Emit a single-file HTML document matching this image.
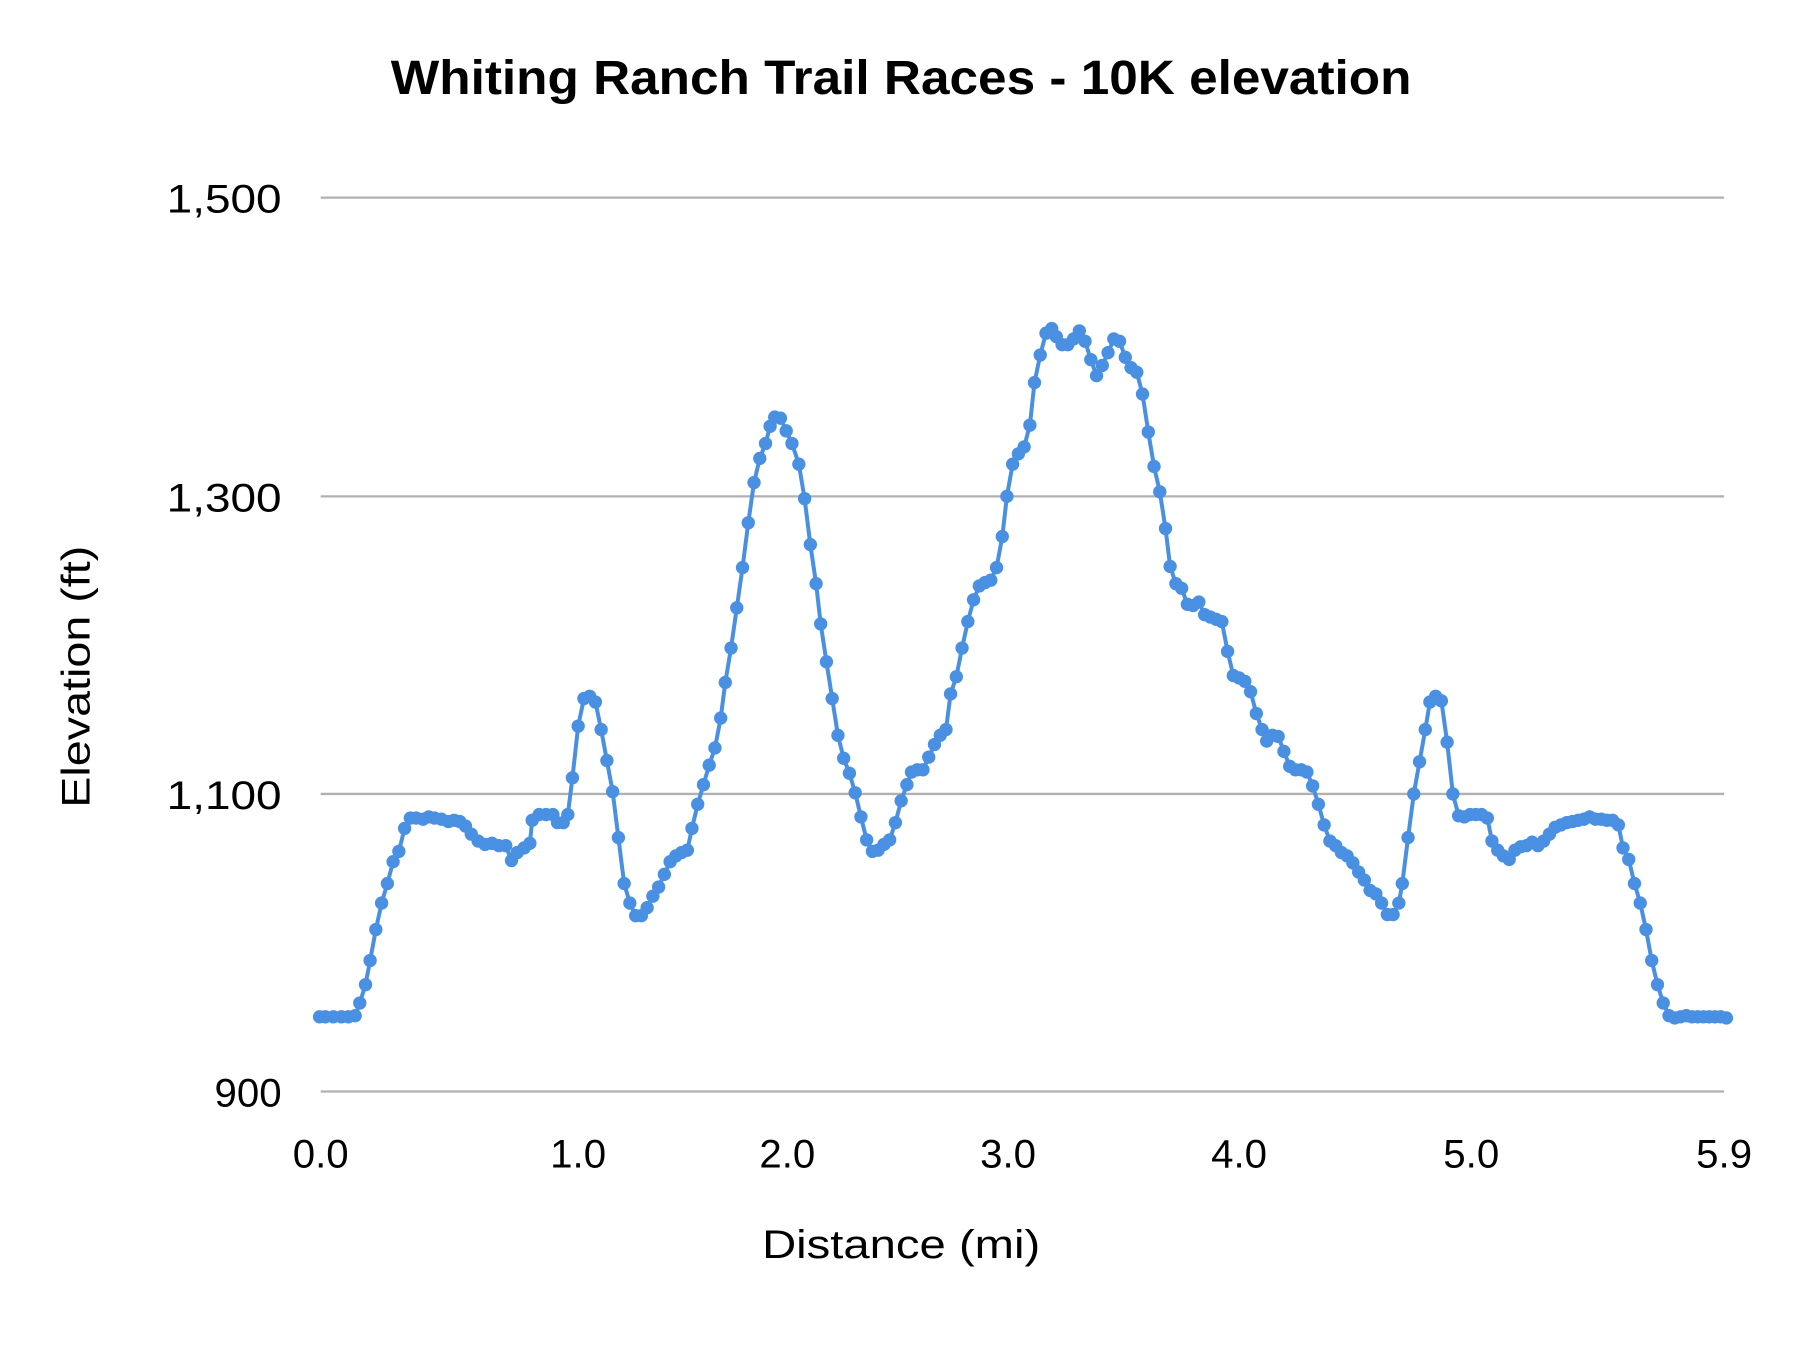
<!DOCTYPE html>
<html><head><meta charset="utf-8"><style>
html,body{margin:0;padding:0;background:#fff;}
svg{display:block;}
text{font-family:"Liberation Sans",sans-serif;fill:#000;}
</style></head><body>
<svg width="1800" height="1350" viewBox="0 0 1566 1175" preserveAspectRatio="none">
<rect width="1566" height="1175" fill="#fff"/>
<text x="340" y="82" font-size="42" font-weight="bold" textLength="888" lengthAdjust="spacingAndGlyphs">Whiting Ranch Trail Races  - 10K elevation</text>
<g stroke="#b0b0b0" stroke-width="2">
<line x1="279" y1="172" x2="1500" y2="172"/>
<line x1="279" y1="432" x2="1500" y2="432"/>
<line x1="279" y1="691" x2="1500" y2="691"/>
<line x1="279" y1="950" x2="1500" y2="950"/>
</g>
<g font-size="35" text-anchor="end">
<text x="245" y="185" textLength="100" lengthAdjust="spacingAndGlyphs">1,500</text>
<text x="245" y="445" textLength="100" lengthAdjust="spacingAndGlyphs">1,300</text>
<text x="245" y="704" textLength="100" lengthAdjust="spacingAndGlyphs">1,100</text>
<text x="245" y="963">900</text>
</g>
<g font-size="35" text-anchor="middle">
<text x="279" y="1016">0.0</text>
<text x="503" y="1016">1.0</text>
<text x="685" y="1016">2.0</text>
<text x="877" y="1016">3.0</text>
<text x="1078" y="1016">4.0</text>
<text x="1280" y="1016">5.0</text>
<text x="1500" y="1016">5.9</text>
</g>
<text x="663" y="1095" font-size="35" textLength="242" lengthAdjust="spacingAndGlyphs">Distance (mi)</text>
<text transform="translate(78,703) rotate(-90)" font-size="35" textLength="228" lengthAdjust="spacingAndGlyphs">Elevation (ft)</text>
<polyline id="p" fill="none" stroke="#4a90e2" stroke-width="3.5" stroke-linejoin="round" points="278,885 283,885 290,885 297,885 303,885 309,884 313,873 318,857 322,836 327,809 332,786 337,769 342,750 347,741 352,721 357,712 362,712 368,713 373,711 378,712 384,713 390,715 395,714 400,715 405,719 410,726 416,732 422,735 428,734 434,736 440,736 445,749 450,742 456,738 461,734 463,714 469,709 475,709 481,709 485,716 490,716 494,709 498,677 503,632 508,608 513,606 518,611 523,635 528,662 533,689 538,729 543,769 548,786 553,797 558,797 563,790 568,780 573,772 578,761 583,750 588,745 593,742 598,740 602,721 607,700 612,683 617,666 622,651 627,625 631,594 636,564 641,529 646,494 651,455 656,420 661,399 666,386 670,371 674,363 679,364 684,375 689,386 695,404 700,434 705,474 710,508 714,543 719,576 724,608 729,640 734,660 739,673 744,690 749,711 754,731 759,741 764,740 769,735 774,731 779,716 784,697 789,683 793,672 798,670 803,670 808,659 813,648 818,640 823,635 827,604 832,589 837,564 842,541 847,522 852,510 857,507 862,505 867,494 872,467 876,432 881,404 886,395 891,389 896,370 900,333 905,309 910,290 915,286 919,293 924,300 929,300 934,295 939,288 944,297 949,313 954,327 959,318 964,307 969,295 974,297 979,311 984,320 989,324 994,343 999,376 1004,406 1009,428 1014,460 1018,493 1023,508 1028,512 1033,526 1038,527 1043,524 1048,535 1053,537 1058,539 1063,541 1068,567 1073,588 1078,590 1083,593 1088,602 1093,621 1098,635 1102,645 1107,640 1112,641 1117,654 1122,667 1127,670 1132,670 1137,672 1142,684 1147,700 1152,718 1157,732 1162,736 1167,742 1172,745 1177,751 1182,759 1187,766 1192,775 1197,778 1202,786 1207,796 1212,796 1217,786 1220,769 1225,729 1230,691 1235,663 1240,635 1244,611 1249,606 1254,610 1259,646 1264,691 1269,710 1274,711 1279,709 1284,709 1289,709 1294,712 1298,732 1303,740 1308,745 1313,748 1318,740 1323,737 1328,736 1333,733 1338,736 1343,732 1348,726 1353,720 1358,718 1363,716 1368,715 1373,714 1378,713 1383,711 1388,713 1393,713 1398,714 1403,714 1408,718 1412,738 1417,748 1422,769 1427,786 1432,809 1437,836 1442,857 1447,873 1452,884 1457,886 1462,885 1467,884 1472,885 1477,885 1482,885 1487,885 1492,885 1497,885 1502,886"/>
<g fill="#4a90e2" id="dots"></g>
<script>
var pts=document.getElementById('p').getAttribute('points').trim().split(/\s+/);
var g=document.getElementById('dots'),ns='http://www.w3.org/2000/svg';
pts.forEach(function(s){var a=s.split(',');var c=document.createElementNS(ns,'circle');c.setAttribute('cx',a[0]);c.setAttribute('cy',a[1]);c.setAttribute('r','5.8');g.appendChild(c);});
</script>
</svg>
</body></html>
